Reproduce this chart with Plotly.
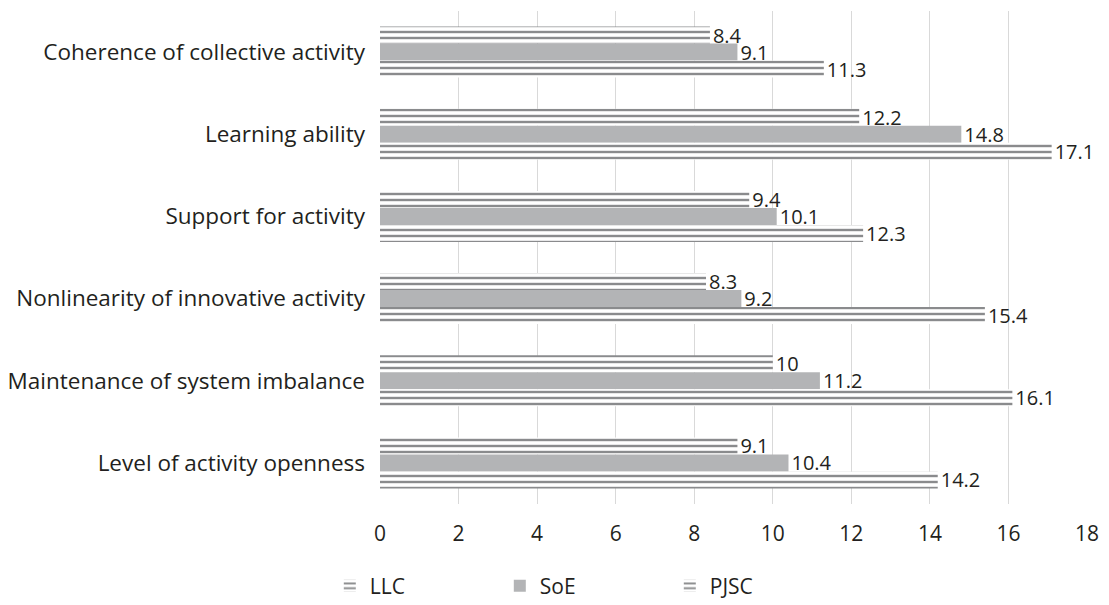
import plotly.graph_objects as go

categories = [
    "Coherence of collective activity",
    "Learning ability",
    "Support for activity",
    "Nonlinearity of innovative activity",
    "Maintenance of system imbalance",
    "Level of activity openness",
]
llc = [8.4, 12.2, 9.4, 8.3, 10, 9.1]
soe = [9.1, 14.8, 10.1, 9.2, 11.2, 10.4]
pjsc = [11.3, 17.1, 12.3, 15.4, 16.1, 14.2]
x_ticks = [0, 2, 4, 6, 8, 10, 12, 14, 16, 18]

FONT = "Open Sans"
TXT = "#231f20"
GREY = "#8a8b8d"
FILL = "#b3b4b6"

stripe = dict(shape="-", fillmode="replace", bgcolor="white", fgcolor=GREY, size=6, solidity=0.4)
label_font = dict(size=20, color=TXT, family=FONT)

fig = go.Figure()
fig.add_trace(go.Bar(
    y=categories, x=llc, name="LLC", orientation="h",
    marker=dict(color="white", pattern=stripe, line=dict(width=0)),
    text=[str(v) for v in llc], textposition="outside", constraintext="none",
    textfont=label_font, cliponaxis=False,
))
fig.add_trace(go.Bar(
    y=categories, x=soe, name="SoE", orientation="h",
    marker=dict(color=FILL, line=dict(width=0)),
    text=[str(v) for v in soe], textposition="outside", constraintext="none",
    textfont=label_font, cliponaxis=False,
))
fig.add_trace(go.Bar(
    y=categories, x=pjsc, name="PJSC", orientation="h",
    marker=dict(color="white", pattern=stripe, line=dict(width=0)),
    text=[str(v) for v in pjsc], textposition="outside", constraintext="none",
    textfont=label_font, cliponaxis=False,
))

fig.update_layout(
    width=1109, height=605,
    margin=dict(l=380, r=22, t=11, b=101, autoexpand=False),
    paper_bgcolor="white", plot_bgcolor="white",
    barmode="group", bargap=0.38, bargroupgap=0,
    font=dict(family=FONT, size=20, color=TXT),
    showlegend=True,
    legend=dict(orientation="h", x=-0.071, xanchor="left", yref="container", y=0.065, yanchor="top",
                font=dict(size=21, color=TXT, family=FONT), itemwidth=30,
                entrywidth=125, entrywidthmode="pixels",
                traceorder="normal"),
    xaxis=dict(range=[0, 18], tickvals=x_ticks, showgrid=True, gridcolor="#d9d9d9",
               gridwidth=1, zeroline=False, showline=False, ticks="",
               automargin=False, ticklabelstandoff=15,
               tickfont=dict(size=21, color=TXT, family=FONT)),
    yaxis=dict(autorange="reversed", showgrid=False, showline=False, ticks="",
               automargin=False, ticklabelstandoff=14,
               tickfont=dict(size=22.5, color=TXT, family=FONT)),
)

fig.write_html("out.html", config={"displayModeBar": False},
               post_script="document.body.style.margin='0px';")
